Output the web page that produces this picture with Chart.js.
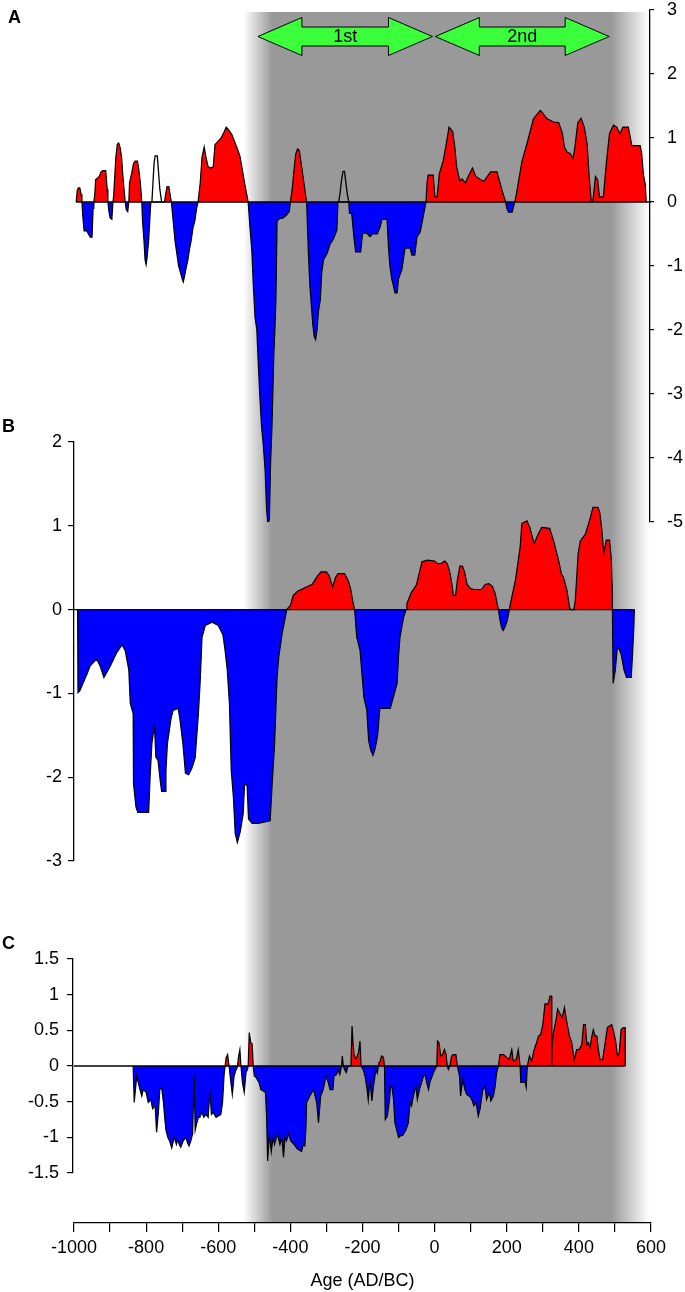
<!DOCTYPE html>
<html>
<head>
<meta charset="utf-8">
<script src="https://cdn.jsdelivr.net/npm/chart.js@4.4.1/dist/chart.umd.min.js"></script>
<style>
  html, body { margin: 0; padding: 0; background: #fff; }
  #wrap { width: 685px; height: 1292px; position: relative; }
</style>
</head>
<body>
<div id="wrap"><canvas id="chart" width="685" height="1292"></canvas></div>
<script>
"use strict";

/*--------------------------------------
    data
--------------------------------------*/

const ageRange = [-1000, 600];
const rangeA = [-5, 3], rangeB = [-3, 2], rangeC = [-1.5, 1.5];
const stepA = 1, stepB = 1, stepC = 0.5;

// shaded period and the two phase arrows (ages)
const bandEdges = [-530, -450, 490, 595];
const arrowSpans = [[-490, -6], [2, 484]];
const arrowLabels = ['1st', '2nd'];

// extent of the zero line in each panel (ages)
const zeroSpanA = [-994, 600];
const zeroSpanB = [-1000, 554];
const zeroSpanC = [-1000, 528.5];

// panel A: [age, value]
const seriesA = [
  [-994,0],[-991,0.18],[-988,0.22],[-984,0.22],[-980,0.12],[-978,0],
  [-976,-0.2],[-972,-0.45],[-965,-0.45],[-960,-0.5],[-955,-0.55],[-950,-0.55],[-947,-0.1],[-945,0],
  [-942,0.15],[-940,0.35],[-935,0.37],[-930,0.4],[-925,0.47],[-920,0.49],[-912,0.49],[-908,0.2],[-906,0],
  [-903,-0.15],[-900,-0.25],[-895,-0.27],[-892,0],
  [-890,0.1],[-887,0.4],[-884,0.7],[-880,0.9],[-876,0.92],[-872,0.85],[-868,0.7],[-865,0.45],[-862,0.25],[-858,0],
  [-855,-0.12],[-851,-0.15],[-848,0],
  [-846,0.3],[-840,0.45],[-835,0.6],[-830,0.64],[-824,0.64],[-820,0.5],[-816,0.3],[-812,0],
  [-810,-0.3],[-806,-0.6],[-803,-0.9],[-800,-0.98],[-797,-0.85],[-793,-0.6],[-790,-0.3],[-787,0],
  [-784,0],[-757,0],
  [-749,0],[-746,0.12],[-742,0.24],[-737,0.24],[-733,0.1],[-730,0],
  [-725,-0.3],[-720,-0.6],[-715,-0.8],[-710,-1.0],[-705,-1.1],[-700,-1.2],[-697,-1.25],[-693,-1.15],[-688,-1.0],
  [-684,-0.9],[-680,-0.75],[-675,-0.6],[-670,-0.4],[-665,-0.3],[-660,-0.1],[-656,0],
  [-650,0.3],[-645,0.7],[-639,0.86],[-634,0.7],[-628,0.55],[-620,0.53],[-614,0.55],[-609,0.9],[-600,0.95],
  [-592,1.0],[-585,1.08],[-578,1.17],[-570,1.12],[-562,1.05],[-555,0.95],[-548,0.85],[-540,0.72],[-533,0.5],
  [-527,0.3],[-521,0.12],[-517,0],
  [-512,-0.4],[-507,-0.75],[-503,-1.27],[-498,-1.8],[-493,-2.0],[-490,-2.4],[-485,-3.0],[-480,-3.5],[-475,-3.8],
  [-470,-4.2],[-466,-4.8],[-462,-5.05],[-458,-4.95],[-455,-4.1],[-451,-3.5],[-446,-2.4],[-443,-2.0],[-440,-1.5],
  [-437,-0.3],[-430,-0.26],[-420,-0.25],[-410,-0.2],[-403,-0.15],[-400,0],
  [-395,0.2],[-390,0.5],[-385,0.75],[-380,0.83],[-375,0.8],[-370,0.6],[-365,0.4],[-360,0.2],[-355,0],
  [-350,-0.8],[-346,-1.3],[-342,-1.6],[-338,-1.9],[-334,-2.1],[-330,-2.15],[-326,-2.0],[-322,-1.7],[-317,-1.53],
  [-313,-1.1],[-308,-0.9],[-298,-0.8],[-290,-0.66],[-281,-0.58],[-271,-0.44],[-268,0],
  [-266,0],[-238,0],
  [-236,-0.18],[-230,-0.18],[-224,-0.54],[-219,-0.78],[-205,-0.78],[-200,-0.5],[-190,-0.48],[-179,-0.54],
  [-173,-0.5],[-159,-0.5],[-151,-0.39],[-146,-0.27],[-132,-0.27],[-128,-0.7],[-124,-1.0],[-119,-1.2],
  [-115,-1.29],[-110,-1.42],[-104,-1.42],[-100,-1.2],[-91,-1.06],[-82,-0.72],[-68,-0.72],[-63,-0.83],
  [-55,-0.83],[-49,-0.55],[-40,-0.47],[-32,-0.24],[-24,0],
  [-21,0.3],[-18,0.42],[-4,0.42],[1,0.08],[7,0.08],[13,0.44],[24,0.65],[32,0.9],[40,1.17],[50,1.1],[56,0.86],
  [61,0.55],[70,0.33],[76,0.36],[85,0.3],[96,0.43],[105,0.53],[114,0.4],[136,0.32],[155,0.47],[173,0.47],
  [187,0.18],[197,0],
  [200,-0.1],[205,-0.16],[215,-0.16],[222,0],
  [226,0.1],[242,0.63],[256,0.91],[274,1.3],[293,1.43],[298,1.4],[312,1.3],[330,1.25],[344,1.24],[354,1.08],
  [360,0.86],[367,0.78],[376,0.76],[384,0.68],[390,0.9],[397,1.24],[406,1.31],[415,1.17],[423,0.9],[428,0.44],
  [434,0.03],[439,0.03],[446,0.4],[452,0.35],[457,0.08],[468,0.08],[476,0.6],[485,1.07],[496,1.2],[505,1.17],
  [514,1.07],[522,1.17],[537,1.17],[547,0.88],[570,0.88],[574,0.76],[579,0.43],[584,0.28],[587,0]
];

// panel A: two peaks drawn as outline only
const openPeakA1 = [[-784,0],[-781,0.3],[-778,0.6],[-775,0.72],[-769,0.72],[-766,0.5],[-762,0.2],[-757,0]];
const openPeakA2 = [[-266,0],[-262,0.15],[-258,0.35],[-254,0.48],[-250,0.48],[-246,0.3],[-242,0.12],[-238,0]];

// panel B: [age, value]
const seriesB = [
  [-990,0],[-989,-0.99],[-984,-0.97],[-975,-0.88],[-964,-0.77],[-955,-0.67],[-937,-0.59],[-927,-0.68],
  [-917,-0.81],[-900,-0.68],[-881,-0.51],[-867,-0.42],[-858,-0.49],[-848,-0.72],[-844,-1.12],[-836,-1.24],
  [-835,-2.08],[-828,-2.36],[-823,-2.42],[-793,-2.42],[-789,-2.0],[-784,-1.6],[-777,-1.38],[-773,-1.76],
  [-767,-1.8],[-761,-2.04],[-757,-2.17],[-747,-2.17],[-745,-1.92],[-741,-1.6],[-731,-1.3],[-725,-1.2],
  [-711,-1.18],[-706,-1.32],[-698,-1.6],[-691,-1.95],[-682,-1.97],[-673,-1.89],[-664,-1.77],[-655,-1.24],
  [-650,-0.85],[-645,-0.33],[-636,-0.19],[-617,-0.15],[-600,-0.19],[-587,-0.3],[-581,-0.49],[-575,-0.72],
  [-569,-1.12],[-564,-1.92],[-558,-2.24],[-553,-2.67],[-547,-2.78],[-539,-2.65],[-531,-2.44],[-527,-2.08],
  [-520,-2.1],[-516,-2.5],[-506,-2.55],[-489,-2.55],[-456,-2.52],[-450,-2.04],[-444,-1.62],[-437,-0.81],
  [-432,-0.56],[-423,-0.29],[-410,0],
  [-400,0.05],[-392,0.17],[-380,0.22],[-360,0.26],[-340,0.3],[-325,0.4],[-315,0.45],[-300,0.45],[-292,0.4],
  [-283,0.27],[-275,0.38],[-268,0.43],[-250,0.43],[-240,0.35],[-233,0.25],[-227,0.1],[-222,0],
  [-220,-0.1],[-216,-0.33],[-207,-0.48],[-203,-0.69],[-196,-1.05],[-188,-1.2],[-183,-1.56],[-177,-1.68],
  [-171,-1.74],[-165,-1.66],[-158,-1.5],[-152,-1.18],[-123,-1.18],[-104,-0.88],[-100,-0.55],[-96,-0.33],
  [-86,-0.09],[-79,0],
  [-77,0.07],[-65,0.2],[-50,0.3],[-42,0.45],[-35,0.57],[-20,0.59],[0,0.58],[8,0.55],[18,0.55],[28,0.58],
  [35,0.55],[42,0.45],[48,0.3],[52,0.17],[58,0.17],[63,0.35],[70,0.52],[77,0.52],[83,0.45],[90,0.3],
  [100,0.25],[110,0.24],[130,0.24],[140,0.3],[150,0.31],[160,0.28],[168,0.19],[173,0.08],[177,0],
  [181,-0.12],[186,-0.22],[190,-0.25],[196,-0.2],[202,-0.12],[207,0],
  [214,0.15],[224,0.35],[237,0.74],[242,1.03],[256,1.06],[264,0.98],[276,0.79],[287,0.9],[297,0.98],
  [319,0.97],[330,0.82],[344,0.58],[352,0.42],[357,0.39],[367,0.23],[374,0.03],[378,0],[386,0],
  [390,0.11],[398,0.67],[404,0.82],[418,0.9],[432,1.1],[439,1.22],[453,1.22],[458,1.16],[464,0.94],
  [469,0.67],[476,0.83],[485,0.83],[490,0.6],[492,0.31],[493,0],
  [495,-0.88],[501,-0.72],[506,-0.48],[510,-0.45],[517,-0.53],[525,-0.72],[532,-0.81],[545,-0.81],
  [548,-0.6],[552,-0.25],[554,0]
];

// panel C: [age, value]
const seriesC = [
  [-836,0],[-833,-0.51],[-826,-0.14],[-822,-0.23],[-817,-0.33],[-812,-0.42],[-808,-0.33],[-800,-0.37],
  [-794,-0.51],[-787,-0.47],[-782,-0.6],[-775,-0.56],[-771,-0.93],[-766,-0.65],[-762,-0.33],[-757,-0.3],
  [-752,-0.51],[-748,-0.75],[-745,-0.9],[-740,-1.0],[-735,-1.05],[-729,-1.15],[-722,-1.0],[-716,-1.1],
  [-713,-1.03],[-708,-1.1],[-704,-1.14],[-697,-1.05],[-690,-1.0],[-685,-1.08],[-681,-1.12],[-676,-1.05],
  [-671,-0.95],[-667,-0.14],[-664,-0.9],[-660,-0.81],[-655,-0.72],[-651,-0.72],[-646,-0.65],[-640,-0.72],
  [-634,-0.68],[-628,-0.72],[-623,-0.35],[-619,-0.68],[-614,-0.65],[-606,-0.72],[-600,-0.7],[-593,-0.68],
  [-588,-0.51],[-584,-0.14],[-581,0],
  [-578,0.12],[-574,0.16],[-570,0],
  [-567,-0.14],[-561,-0.4],[-556,-0.14],[-552,-0.07],[-547,-0.02],
  [-544,0.12],[-540,0.23],[-537,0],
  [-533,-0.23],[-528,-0.37],[-523,-0.09],[-519,-0.05],[-517,0],
  [-514,0.47],[-510,0.33],[-506,0.31],[-503,0],
  [-500,-0.14],[-495,-0.16],[-492,-0.19],[-487,-0.23],[-482,-0.33],[-475,-0.35],[-469,-0.37],[-466,-0.7],
  [-463,-1.33],[-458,-0.95],[-453,-1.2],[-448,-1.0],[-444,-1.1],[-436,-0.95],[-429,-1.1],[-424,-1.0],
  [-419,-1.28],[-415,-1.0],[-411,-1.05],[-405,-0.95],[-399,-1.05],[-390,-1.1],[-381,-1.16],[-369,-1.2],
  [-364,-1.1],[-360,-1.12],[-357,-0.88],[-355,-0.51],[-346,-0.42],[-336,-0.33],[-327,-0.51],[-322,-0.8],
  [-316,-0.42],[-309,-0.33],[-301,-0.14],[-295,-0.23],[-290,-0.33],[-282,-0.33],[-279,-0.14],[-272,-0.12],
  [-268,-0.05],[-263,-0.12],[-258,0],
  [-256,0.14],[-253,0],
  [-250,-0.05],[-245,-0.09],[-240,0],[-232,0],
  [-229,0.56],[-226,0.3],[-223,0.14],[-218,0.1],[-211,0.19],[-207,0.35],[-204,0],
  [-198,-0.05],[-193,-0.14],[-188,-0.3],[-184,-0.48],[-179,-0.2],[-174,-0.49],[-170,-0.3],[-163,-0.05],
  [-159,-0.1],[-156,0],
  [-154,0.05],[-151,0.07],[-147,0.14],[-142,0.12],[-139,0],
  [-137,-0.75],[-131,-0.7],[-125,-0.47],[-122,-0.28],[-118,-0.3],[-114,-0.47],[-110,-0.8],[-105,-0.9],
  [-100,-1.0],[-95,-0.98],[-88,-0.97],[-80,-0.9],[-73,-0.8],[-68,-0.51],[-64,-0.56],[-59,-0.42],[-52,-0.28],
  [-48,-0.47],[-42,-0.33],[-36,-0.23],[-31,-0.14],[-27,-0.12],[-22,-0.23],[-17,-0.33],[-13,-0.23],
  [-8,-0.16],[-3,-0.09],[1,-0.05],[6,0],
  [8,0.35],[12,0.33],[17,0.14],[22,0.16],[27,0.23],[32,0.16],[35,0],
  [38,-0.05],[42,0],
  [47,0.14],[52,0.16],[59,0.16],[63,0],
  [69,-0.14],[72,-0.42],[78,-0.19],[84,-0.33],[89,-0.4],[96,-0.42],[103,-0.47],[109,-0.56],[115,-0.51],
  [121,-0.7],[126,-0.6],[133,-0.35],[140,-0.28],[144,-0.47],[152,-0.37],[156,-0.49],[163,-0.42],
  [168,-0.28],[172,-0.09],[177,0],
  [181,0.16],[191,0.16],[200,0.12],[207,0.09],[214,0.23],[218,0.07],[226,0.09],[232,0.23],[237,0],
  [239,-0.23],[251,-0.23],[254,-0.3],[257,0],
  [263,0.14],[269,0.07],[276,0.23],[283,0.33],[288,0.42],[294,0.44],[300,0.58],[306,0.87],[315,0.87],
  [320,0.98],[324,0.98],[325,0],[326,0.3],[329,0.45],[337,0.66],[341,0.8],[348,0.73],[354,0.68],[360,0.82],
  [366,0.63],[374,0.42],[380,0.33],[387,0.09],[394,0.23],[401,0.23],[408,0.3],[413,0.58],[418,0.58],
  [422,0.3],[426,0.33],[431,0.26],[436,0.42],[440,0.51],[445,0.42],[450,0.42],[454,0.23],[459,0.09],
  [466,0.09],[473,0.33],[479,0.54],[485,0.56],[491,0.58],[496,0.49],[502,0.35],[507,0.14],[512,0.19],
  [517,0.51],[523,0.54],[528,0.54],[528.5,0]
];

/*--------------------------------------
    layout (pixels)
--------------------------------------*/

const FONT = 'Liberation Sans, Arial, sans-serif';
const panelPx = { yA: [10, 522], yB: [442, 861], yC: [959, 1173] };
const plotLeft = 74, plotRight = 651, plotBottom = 1223, bandTop = 12;

Chart.defaults.font.family = FONT;
Chart.defaults.color = '#000';

function pts(arr) { return arr.map(function (p) { return { x: p[0], y: p[1] }; }); }
function zeroLine(span) { return [{ x: span[0], y: 0 }, { x: span[1], y: 0 }]; }

const areaFill = { target: 'origin', above: '#ff0000', below: '#0000ff' };

function areaSet(data, axis) {
  return {
    data: pts(data), yAxisID: axis, fill: areaFill,
    borderColor: '#000', borderWidth: 1.2, pointRadius: 0, tension: 0, order: 2
  };
}
function lineSet(data, axis) {
  return {
    data: data, yAxisID: axis, fill: false, spanGaps: false,
    borderColor: '#000', borderWidth: 1.3, pointRadius: 0, tension: 0, order: 1
  };
}

function yScale(pos, range, step, tickLen, pad, width) {
  return {
    type: 'linear', position: pos, min: range[0], max: range[1],
    grid: { display: true, drawOnChartArea: false, drawTicks: true, tickLength: tickLen, color: '#000', lineWidth: 1.2 },
    border: { display: true, color: '#000', width: 1.3 },
    ticks: {
      stepSize: step, padding: pad, color: '#000', font: { size: 18 },
      callback: function (v) { return String(v); }
    },
    afterFit: function (s) {
      s.width = width;
      s.paddingTop = 0; s.paddingBottom = 0; s.paddingLeft = 0; s.paddingRight = 0;
    }
  };
}

/*--------------------------------------
    plugins
--------------------------------------*/

// put the three y axes on their own vertical strips
const panelLayout = {
  id: 'panelLayout',
  afterLayout: function (chart) {
    const s = chart.scales;
    s.yA.left = plotRight - 1; s.yA.right = 685;
    s.yB.left = 0; s.yB.right = plotLeft;
    s.yC.left = 0; s.yC.right = plotLeft - 1;
    Object.keys(panelPx).forEach(function (id) {
      s[id].top = panelPx[id][0];
      s[id].bottom = panelPx[id][1];
      s[id].height = panelPx[id][1] - panelPx[id][0];
      s[id].width = s[id].right - s[id].left;
      s[id].configure();
    });
  }
};

// grey period with soft edges, one gradient so no seams
const bandPlugin = {
  id: 'band',
  beforeDraw: function (chart) {
    const ctx = chart.ctx, xs = chart.scales.x;
    const e = bandEdges.map(function (v) { return xs.getPixelForValue(v); });
    const w = e[3] - e[0];
    const g = ctx.createLinearGradient(e[0], 0, e[3], 0);
    g.addColorStop(0, 'rgba(153,153,153,0)');
    g.addColorStop((e[1] - e[0]) / w, 'rgba(153,153,153,1)');
    g.addColorStop((e[2] - e[0]) / w, 'rgba(153,153,153,1)');
    g.addColorStop(1, 'rgba(153,153,153,0)');
    ctx.save();
    ctx.fillStyle = g;
    ctx.fillRect(e[0], bandTop, w, chart.chartArea.bottom - bandTop);
    ctx.restore();
  }
};

// double arrows, panel letters
const decorPlugin = {
  id: 'decor',
  afterDraw: function (chart) {
    const ctx = chart.ctx, xs = chart.scales.x;
    const yc = 36.5, hs = 9.5, hh = 19, hl = 44;
    ctx.save();
    arrowSpans.forEach(function (span, i) {
      const x0 = xs.getPixelForValue(span[0]), x1 = xs.getPixelForValue(span[1]);
      ctx.beginPath();
      ctx.moveTo(x0, yc);
      ctx.lineTo(x0 + hl, yc - hh); ctx.lineTo(x0 + hl, yc - hs);
      ctx.lineTo(x1 - hl, yc - hs); ctx.lineTo(x1 - hl, yc - hh);
      ctx.lineTo(x1, yc);
      ctx.lineTo(x1 - hl, yc + hh); ctx.lineTo(x1 - hl, yc + hs);
      ctx.lineTo(x0 + hl, yc + hs); ctx.lineTo(x0 + hl, yc + hh);
      ctx.closePath();
      ctx.fillStyle = '#3cff3c';
      ctx.fill();
      ctx.lineWidth = 1;
      ctx.strokeStyle = '#000';
      ctx.stroke();
      ctx.fillStyle = '#000';
      ctx.font = '18px ' + FONT;
      ctx.textAlign = 'center';
      ctx.textBaseline = 'middle';
      ctx.fillText(arrowLabels[i], (x0 + x1) / 2, yc + 1);
    });
    ctx.font = 'bold 18px ' + FONT;
    ctx.textAlign = 'left';
    ctx.textBaseline = 'middle';
    ctx.fillText('A', 8, 18);
    ctx.fillText('B', 2, 427);
    ctx.fillText('C', 2, 944);
    ctx.restore();
  }
};

/*--------------------------------------
    chart
--------------------------------------*/

const openPeaks = pts(openPeakA1).concat([{ x: -500, y: null }], pts(openPeakA2));

new Chart(document.getElementById('chart').getContext('2d'), {
  type: 'line',
  data: {
    datasets: [
      lineSet(zeroLine(zeroSpanA), 'yA'),
      lineSet(zeroLine(zeroSpanB), 'yB'),
      lineSet(zeroLine(zeroSpanC), 'yC'),
      lineSet(openPeaks, 'yA'),
      areaSet(seriesA, 'yA'),
      areaSet(seriesB, 'yB'),
      areaSet(seriesC, 'yC')
    ]
  },
  options: {
    responsive: false,
    animation: false,
    devicePixelRatio: 1,
    layout: { padding: { top: 10, left: 0, right: 0, bottom: 0 } },
    plugins: { legend: { display: false }, tooltip: { enabled: false } },
    scales: {
      x: {
        type: 'linear', position: 'bottom', min: ageRange[0], max: ageRange[1],
        grid: { display: true, drawOnChartArea: false, drawTicks: true, tickLength: 9, color: '#000', lineWidth: 1.2 },
        border: { display: true, color: '#000', width: 1.3 },
        ticks: {
          stepSize: 100, autoSkip: false, maxRotation: 0, padding: 5, color: '#000', font: { size: 18 },
          callback: function (v) { return v % 200 === 0 ? String(v) : ''; }
        },
        title: { display: true, text: 'Age (AD/BC)', color: '#000', font: { size: 18 }, padding: { top: 0, bottom: 0 } },
        afterFit: function (s) {
          s.height = 1292 - plotBottom;
          s.paddingLeft = 0; s.paddingRight = 0; s.paddingTop = 0; s.paddingBottom = 0;
        }
      },
      yA: yScale('right', rangeA, stepA, 4, 13, 685 - plotRight),
      yB: yScale('left', rangeB, stepB, 6, 6, plotLeft),
      yC: yScale('left', rangeC, stepC, 6, 8, 0)
    }
  },
  plugins: [panelLayout, bandPlugin, decorPlugin]
});
</script>
</body>
</html>
